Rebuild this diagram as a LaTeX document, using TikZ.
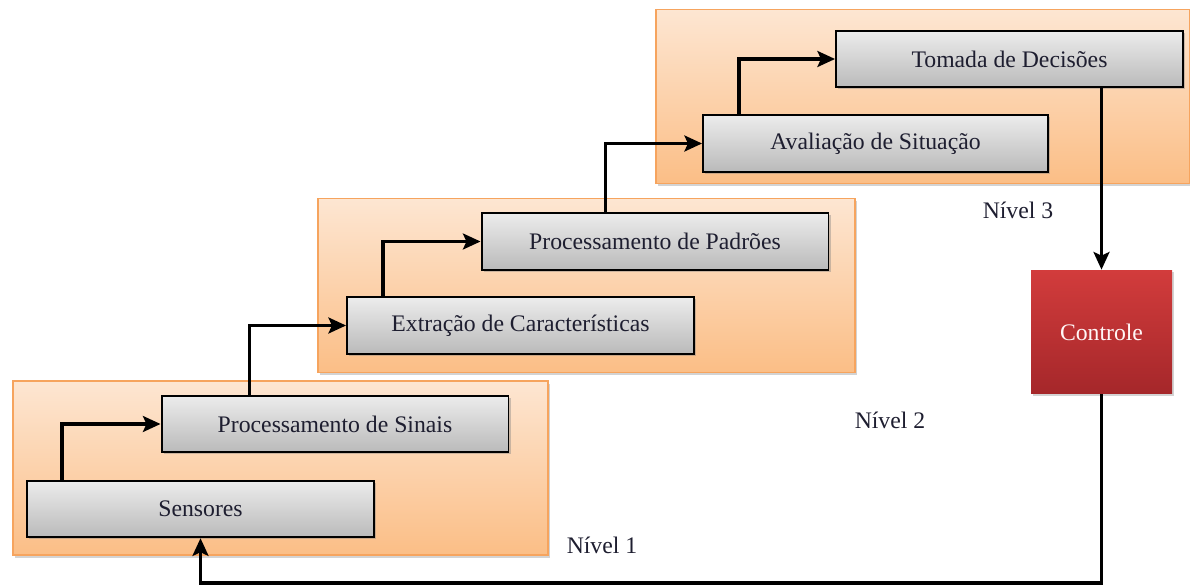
\documentclass[tikz,border=0pt]{standalone}
\usepackage{fontspec}
\setmainfont{Liberation Serif}
\usepackage{tikz}
\usetikzlibrary{arrows.meta, shadows}

\definecolor{nivelTop}{HTML}{FDE6D2}
\definecolor{nivelBot}{HTML}{FBBE86}
\definecolor{nivelBorda}{HTML}{F6A45E}
\definecolor{caixaTop}{HTML}{ECECEC}
\definecolor{caixaBot}{HTML}{BABABA}
\definecolor{ctrlTop}{HTML}{D23C3C}
\definecolor{ctrlBot}{HTML}{A5272A}
\definecolor{textoEsc}{HTML}{1E1E30}

\tikzset{
  nivel/.style={draw=nivelBorda, line width=0.8pt, top color=nivelTop, bottom color=nivelBot,
    minimum width=#1, minimum height=3.48cm, inner sep=0pt,
    drop shadow={shadow xshift=1pt, shadow yshift=-1.5pt, opacity=0.35}},
  caixa/.style={draw=black, line width=1.1pt, top color=caixaTop, bottom color=caixaBot,
    minimum width=6.94cm, minimum height=1.13cm, inner sep=0pt, text=textoEsc,
    font=\fontsize{13.5}{15}\selectfont,
    drop shadow={shadow xshift=1.2pt, shadow yshift=-1.2pt, opacity=0.4}},
  controle/.style={top color=ctrlTop, bottom color=ctrlBot, minimum width=2.82cm,
    minimum height=2.48cm, inner sep=0pt, text=white!85!pink,
    font=\fontsize{13.5}{15}\selectfont,
    drop shadow={shadow xshift=1.2pt, shadow yshift=-1.2pt, opacity=0.35}},
  rotulo/.style={text=textoEsc, font=\fontsize{13.5}{15}\selectfont},
  seta/.style={line width=2pt, -{Stealth[length=10pt, width=9pt, inset=2pt]}}
}

\begin{document}
\begin{tikzpicture}[x=0.02cm, y=-0.02cm]
\useasboundingbox (0,0) rectangle (1190,587);

\node[nivel=10.7cm] (n1) at (280.5,468) {};
\node[nivel=10.74cm] (n2) at (586.5,285.5) {};
\node[nivel=10.68cm] (n3) at (923,96.5) {};

\node[caixa] (sens) at (200.5,509) {Sensores};
\node[caixa] (sinais) at (335,424) {Processamento de Sinais};
\node[caixa] (extr) at (520.5,325.5) {Extração de Características};
\node[caixa] (padr) at (655,241.5) {Processamento de Padrões};
\node[caixa, minimum width=6.9cm] (aval) at (875.5,143.5) {Avaliação de Situação};
\node[caixa] (tom) at (1009.5,59) {Tomada de Decisões};
\node[controle] (ctrl) at (1101.5,332) {Controle};

\node[rotulo] (rot1) at (602,545) {Nível 1};
\node[rotulo] (rot2) at (890,420) {Nível 2};
\node[rotulo] (rot3) at (1018,210) {Nível 3};

\coordinate (ret) at (200.5,583);

\draw[seta] ([xshift=0.72cm]sens.north west) |- (sinais.west);
\draw[seta] ([xshift=1.78cm]sinais.north west) |- (extr.west);
\draw[seta] ([xshift=0.74cm]extr.north west) |- (padr.west);
\draw[seta] ([xshift=2.5cm]padr.north west) |- (aval.west);
\draw[seta] ([xshift=0.74cm]aval.north west) |- (tom.west);
\draw[seta] (ctrl.north |- tom.south) -- (ctrl.north);
\draw[seta] (ctrl.south) |- (ret) -- (sens.south);
\end{tikzpicture}
\end{document}
